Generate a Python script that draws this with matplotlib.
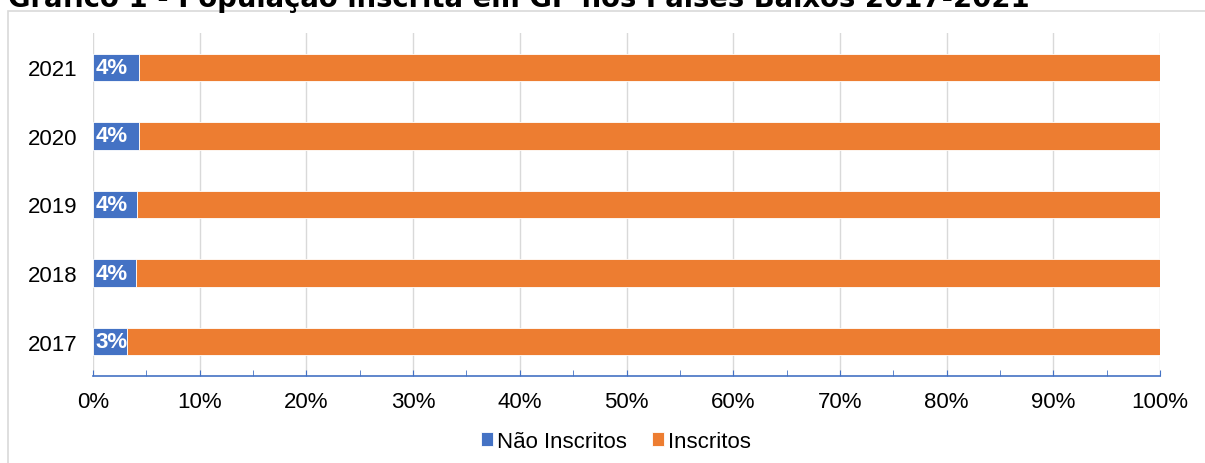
import numpy as np
import matplotlib
matplotlib.use('Agg')
import matplotlib.pyplot as plt
from matplotlib.patches import Rectangle
from matplotlib.ticker import MultipleLocator, PercentFormatter

plt.rcParams['font.family'] = ['Liberation Sans', 'DejaVu Sans']

# data
anos = ['2017', '2018', '2019', '2020', '2021']
nao_inscritos = [3.2, 4.0, 4.1, 4.3, 4.3]
inscritos = [100 - v for v in nao_inscritos]
rotulos = ['3%', '4%', '4%', '4%', '4%']

azul = '#4472C4'
laranja = '#ED7D31'

fig = plt.figure(figsize=(12.05, 4.64), dpi=100)
# chart frame
fig.patches.append(Rectangle((8/1205, -0.1), 1.2, 1 - 12/464 + 0.1, transform=fig.transFigure,
                             fill=False, edgecolor='#D9D9D9', linewidth=1.2))
# title is cropped at the top edge in the source image
fig.text(8/1205, 1 - 7/464, 'Gráfico 1 - População inscrita em GP nos Países Baixos 2017-2021',
         fontsize=19.8, fontweight='bold', va='baseline', ha='left', family='Liberation Sans Narrow')

ax = fig.add_axes([93/1205, 1 - 377/464, (1160 - 93)/1205, (377 - 34)/464])
y = np.arange(len(anos))
ax.barh(y, nao_inscritos, height=0.4, color=azul, edgecolor='white', linewidth=0.6, label='Não Inscritos', zorder=3)
ax.barh(y, inscritos, left=nao_inscritos, height=0.4, color=laranja, edgecolor='white', linewidth=0.6,
        label='Inscritos', zorder=3)
for i, t in enumerate(rotulos):
    ax.text(0.2, y[i], t, color='white', fontweight='bold', fontsize=16, va='center', ha='left', zorder=4)

ax.set_xlim(0, 100)
ax.set_ylim(-0.5, 4.5)
ax.set_yticks(y)
ax.set_yticklabels(anos, fontsize=16)
ax.xaxis.set_major_locator(MultipleLocator(10))
ax.xaxis.set_minor_locator(MultipleLocator(5))
ax.xaxis.set_major_formatter(PercentFormatter(decimals=0))
ax.tick_params(axis='x', which='both', direction='in', length=4, color='#4472C4', labelsize=16, pad=11)
ax.tick_params(axis='y', length=0, pad=11)
ax.grid(axis='x', color='#D9D9D9', linewidth=1, zorder=0)
for s in ['top', 'right', 'left']:
    ax.spines[s].set_visible(False)
ax.spines['bottom'].set_color('#4472C4')
ax.spines['bottom'].set_linewidth(1.2)

ax.legend(loc='center', bbox_to_anchor=(0.49, -0.19), ncol=2, frameon=False, fontsize=16,
          handlelength=0.55, handleheight=0.55, handletextpad=0.2, columnspacing=1.1)

fig.savefig('out.png', dpi=100)
